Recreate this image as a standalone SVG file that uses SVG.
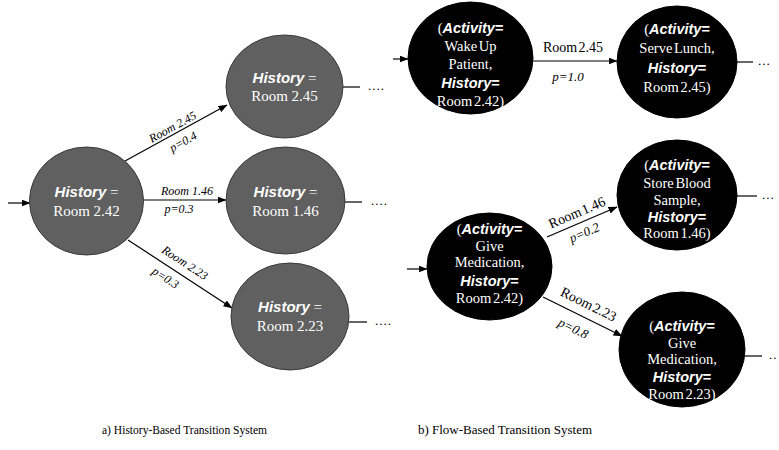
<svg xmlns="http://www.w3.org/2000/svg" width="779" height="450" viewBox="0 0 779 450">
<defs>
<marker id="ah" markerWidth="9" markerHeight="7" refX="8.5" refY="3.5" orient="auto" markerUnits="userSpaceOnUse">
<path d="M0,0 L9,3.5 L0,7 Z" fill="#000"/>
</marker>
<style>
.gn{fill:#606060;stroke:#3a3a3a;stroke-width:1}
.bn{fill:#000;stroke:#000;stroke-width:1}
.t{font-family:"Liberation Serif","Times New Roman",serif;fill:#fff;text-anchor:middle}
.l15{font-size:15px}
.r14{font-size:14.5px;word-spacing:-2px}
.kw{font-family:"Liberation Sans",Arial,sans-serif;font-weight:bold;font-style:italic}
.eq{font-family:"Liberation Sans",Arial,sans-serif;font-weight:bold}
.e{stroke:#000;stroke-width:1.2;fill:none}
.ea{stroke:#000;stroke-width:1.2;fill:none;marker-end:url(#ah)}
.lb{font-family:"Liberation Serif","Times New Roman",serif;font-size:12px;font-style:italic;fill:#000;text-anchor:middle}
.lr{font-family:"Liberation Serif","Times New Roman",serif;font-size:14px;fill:#000;text-anchor:middle;word-spacing:-2px}
.lp{font-family:"Liberation Serif","Times New Roman",serif;font-size:13px;font-style:italic;fill:#000;text-anchor:middle}
.dt{font-family:"Liberation Serif","Times New Roman",serif;font-size:13px;fill:#000;letter-spacing:1px}
.cap{font-family:"Liberation Serif","Times New Roman",serif;font-size:12px;fill:#000}
</style>
</defs>

<g id="connectors">
<line class="ea" x1="8" y1="203" x2="30" y2="203"/>
<line class="ea" x1="125" y1="161" x2="227" y2="105"/>
<line class="ea" x1="143" y1="200" x2="226" y2="200"/>
<line class="ea" x1="128" y1="240" x2="232" y2="308"/>
<line class="e" x1="343" y1="87" x2="360" y2="87"/>
<line class="e" x1="345" y1="202" x2="362" y2="202"/>
<line class="e" x1="349" y1="322" x2="367" y2="322"/>
<text class="dt" x="368" y="90">....</text>
<text class="dt" x="371" y="205">....</text>
<text class="dt" x="375" y="325">....</text>

<text class="lb" transform="translate(176,133) rotate(-28.8)" x="0" y="-3">Room 2.45</text>
<text class="lb" transform="translate(176,133) rotate(-28.8)" x="2" y="15">p=0.4</text>
<text class="lb" x="187" y="195">Room 1.46</text>
<text class="lb" x="179" y="213">p=0.3</text>
<text class="lb" transform="translate(180,274) rotate(33.2)" x="-2" y="-8">Room 2.23</text>
<text class="lb" transform="translate(180,274) rotate(33.2)" x="-10" y="15">p=0.3</text>

<line class="ea" x1="393" y1="59" x2="408" y2="59"/>
<line class="ea" x1="533" y1="61" x2="617" y2="61"/>
<line class="e" x1="737" y1="62" x2="753" y2="62"/>
<text class="dt" x="758" y="65">...</text>
<text class="lr" x="573" y="52">Room 2.45</text>
<text class="lp" x="568" y="81">p=1.0</text>

<line class="ea" x1="407" y1="269" x2="427" y2="269"/>
<line class="ea" x1="547" y1="237" x2="617" y2="207"/>
<line class="ea" x1="543" y1="297" x2="622" y2="336"/>
<line class="e" x1="737" y1="196" x2="757" y2="196"/>
<text class="dt" x="762" y="199">...</text>
<line class="e" x1="745" y1="356" x2="762" y2="356"/>
<text class="dt" x="769" y="359">..</text>
<text class="lr" transform="translate(582,222) rotate(-23.2)" x="-1" y="-6">Room 1.46</text>
<text class="lp" transform="translate(582,222) rotate(-23.2)" x="-2" y="15">p=0.2</text>
<text class="lr" transform="translate(582.5,316.5) rotate(26.3)" x="0" y="-9">Room 2.23</text>
<text class="lp" transform="translate(582.5,316.5) rotate(26.3)" x="-3" y="19">p=0.8</text>
</g>

<g id="nodeA">
<ellipse class="gn" cx="86.5" cy="201" rx="57" ry="54"/>
<text class="t l15" x="86.5" y="197"><tspan class="kw">History</tspan> =</text>
<text class="t l15" x="86.5" y="216">Room 2.42</text>
</g>
<g id="nodeB">
<ellipse class="gn" cx="284.5" cy="86.5" rx="58.5" ry="51.5"/>
<text class="t l15" x="284.5" y="83"><tspan class="kw">History</tspan> =</text>
<text class="t l15" x="284.5" y="101">Room 2.45</text>
</g>
<g id="nodeC">
<ellipse class="gn" cx="285.5" cy="200.5" rx="59.5" ry="53.5"/>
<text class="t l15" x="285.5" y="197"><tspan class="kw">History</tspan> =</text>
<text class="t l15" x="285.5" y="216">Room 1.46</text>
</g>
<g id="nodeD">
<ellipse class="gn" cx="290" cy="316.5" rx="59" ry="53.5"/>
<text class="t l15" x="290" y="312"><tspan class="kw">History</tspan> =</text>
<text class="t l15" x="290" y="331">Room 2.23</text>
</g>

<g id="nodeE">
<ellipse class="bn" cx="470.5" cy="58" rx="62.5" ry="56"/>
<text class="t r14" x="470.5" y="33">(<tspan class="kw">Activity</tspan><tspan class="eq">=</tspan></text>
<text class="t r14" x="470.5" y="51">Wake Up</text>
<text class="t r14" x="470.5" y="69">Patient,</text>
<text class="t r14" x="470.5" y="88"><tspan class="kw">History</tspan><tspan class="eq">=</tspan></text>
<text class="t r14" x="470.5" y="106">Room 2.42)</text>
</g>
<g id="nodeF">
<ellipse class="bn" cx="677" cy="62" rx="60" ry="56"/>
<text class="t r14" x="677" y="34">(<tspan class="kw">Activity</tspan><tspan class="eq">=</tspan></text>
<text class="t r14" x="677" y="53">Serve Lunch,</text>
<text class="t r14" x="677" y="73"><tspan class="kw">History</tspan><tspan class="eq">=</tspan></text>
<text class="t r14" x="677" y="92">Room 2.45)</text>
</g>
<g id="nodeG">
<ellipse class="bn" cx="677" cy="195" rx="60" ry="55"/>
<text class="t r14" x="677" y="170">(<tspan class="kw">Activity</tspan><tspan class="eq">=</tspan></text>
<text class="t r14" x="677" y="188">Store Blood</text>
<text class="t r14" x="677" y="205">Sample,</text>
<text class="t r14" x="677" y="222"><tspan class="kw">History</tspan><tspan class="eq">=</tspan></text>
<text class="t r14" x="677" y="238">Room 1.46)</text>
</g>
<g id="nodeH">
<ellipse class="bn" cx="489.5" cy="266.5" rx="62.5" ry="53.5"/>
<text class="t r14" x="489.5" y="234">(<tspan class="kw">Activity</tspan><tspan class="eq">=</tspan></text>
<text class="t r14" x="489.5" y="251">Give</text>
<text class="t r14" x="489.5" y="267">Medication,</text>
<text class="t r14" x="489.5" y="286"><tspan class="kw">History</tspan><tspan class="eq">=</tspan></text>
<text class="t r14" x="489.5" y="303">Room 2.42)</text>
</g>
<g id="nodeI">
<ellipse class="bn" cx="682" cy="349.5" rx="63" ry="57.5"/>
<text class="t r14" x="682" y="331">(<tspan class="kw">Activity</tspan><tspan class="eq">=</tspan></text>
<text class="t r14" x="682" y="348">Give</text>
<text class="t r14" x="682" y="364">Medication,</text>
<text class="t r14" x="682" y="382"><tspan class="kw">History</tspan><tspan class="eq">=</tspan></text>
<text class="t r14" x="682" y="399">Room 2.23)</text>
</g>

<text class="cap" x="102" y="434" textLength="165" lengthAdjust="spacingAndGlyphs">a) History-Based Transition System</text>
<text class="cap" x="418" y="434" textLength="174" lengthAdjust="spacingAndGlyphs">b) Flow-Based Transition System</text>
</svg>
